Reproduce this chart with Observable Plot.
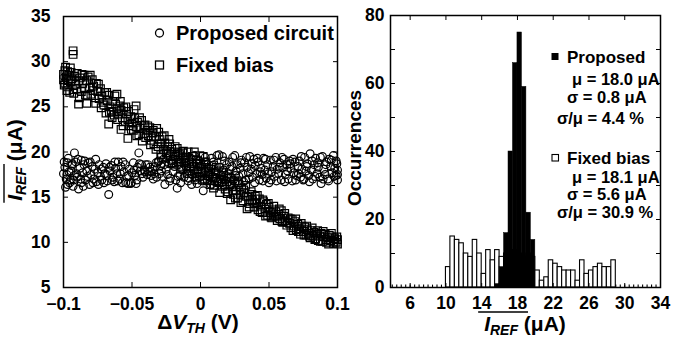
<!DOCTYPE html>
<html><head><meta charset="utf-8">
<script src="https://cdn.jsdelivr.net/npm/d3@7"></script>
<script src="https://cdn.jsdelivr.net/npm/@observablehq/plot@0.6"></script>
<style>
html,body{margin:0;padding:0;background:#fff;}
#wrap{position:relative;width:691px;height:338px;overflow:hidden;background:#fff;}
#wrap svg{position:absolute;top:0;overflow:visible;}
</style></head>
<body><div id="wrap"></div>
<script>
// ---------- Left panel: I_REF vs ΔV_TH (scatter) ----------
const proposedPts = [[-0.100,17.6],[-0.099,18.3],[-0.098,17.0],[-0.097,16.4],[-0.097,18.8],[-0.096,17.8],[-0.095,16.9],[-0.094,18.5],[-0.093,16.2],[-0.092,19.9],[-0.092,17.4],[-0.091,18.9],[-0.090,17.2],[-0.089,15.9],[-0.088,18.2],[-0.087,16.6],[-0.087,19.1],[-0.086,17.7],[-0.085,18.6],[-0.084,16.9],[-0.083,17.9],[-0.082,18.8],[-0.081,16.4],[-0.080,17.5],[-0.079,18.4],[-0.078,17.0],[-0.077,18.1],[-0.076,16.7],[-0.075,17.7],[-0.074,18.6],[-0.073,17.3],[-0.072,16.9],[-0.071,18.3],[-0.070,17.6],[-0.069,18.7],[-0.068,16.8],[-0.067,15.3],[-0.066,17.9],[-0.065,18.5],[-0.064,17.2],[-0.063,16.7],[-0.062,18.2],[-0.061,17.6],[-0.060,18.9],[-0.059,17.0],[-0.058,18.4],[-0.057,16.6],[-0.056,17.8],[-0.055,18.6],[-0.054,17.3],[-0.053,16.5],[-0.052,18.1],[-0.051,16.5],[-0.050,17.7],[-0.049,18.8],[-0.048,17.4],[-0.047,16.5],[-0.046,18.3],[-0.045,19.9],[-0.044,17.9],[-0.043,18.6],[-0.042,17.2],[-0.041,18.0],[-0.040,18.6],[-0.039,17.5],[-0.038,17.8],[-0.037,18.3],[-0.036,17.4],[-0.035,18.1],[-0.034,17.6],[-0.033,18.4],[-0.032,17.2],[-0.031,18.9],[-0.030,17.6],[-0.029,18.5],[-0.028,17.3],[-0.027,19.2],[-0.026,16.4],[-0.025,18.1],[-0.024,17.5],[-0.023,18.7],[-0.022,17.1],[-0.021,19.0],[-0.020,17.8],[-0.019,18.4],[-0.018,16.9],[-0.017,16.0],[-0.016,18.6],[-0.015,17.4],[-0.014,19.1],[-0.013,18.0],[-0.012,17.2],[-0.011,18.8],[-0.010,17.6],[-0.009,16.8],[-0.008,18.3],[-0.007,19.3],[-0.006,17.5],[-0.005,18.1],[-0.004,16.9],[-0.003,18.7],[-0.002,17.8],[-0.001,19.0],
[0.000,17.3],[0.001,18.5],[0.002,15.7],[0.003,17.9],[0.004,18.9],[0.005,16.9],[0.006,18.2],[0.007,17.5],[0.008,19.3],[0.009,17.0],[0.010,18.6],[0.011,17.8],[0.012,19.6],[0.013,16.8],[0.014,18.3],[0.015,17.4],[0.016,19.5],[0.017,18.0],[0.018,16.9],[0.019,18.6],[0.020,17.6],[0.021,18.9],[0.022,17.2],[0.023,18.4],[0.024,16.9],[0.025,19.6],[0.026,17.9],[0.027,18.6],[0.028,17.3],[0.029,18.2],[0.030,19.1],[0.031,17.6],[0.032,18.8],[0.033,16.9],[0.034,18.3],[0.035,17.7],[0.036,19.5],[0.037,18.1],[0.038,17.2],[0.039,19.2],[0.040,18.5],[0.041,17.6],[0.042,18.9],[0.043,16.9],[0.044,18.2],[0.045,17.5],[0.046,19.3],[0.047,18.0],[0.048,17.1],[0.049,18.6],[0.050,16.6],[0.051,19.1],[0.052,17.8],[0.053,18.4],[0.054,17.3],[0.055,19.4],[0.056,18.1],[0.057,17.6],[0.058,18.8],[0.059,16.9],[0.060,18.3],[0.061,19.2],[0.062,17.5],[0.063,18.6],[0.064,17.0],[0.065,19.0],[0.066,18.2],[0.067,16.8],[0.068,17.7],[0.069,18.9],[0.070,17.4],[0.071,18.4],[0.072,19.0],[0.073,17.2],[0.074,18.1],[0.075,16.9],[0.076,19.4],[0.077,17.9],[0.078,18.7],[0.079,17.4],[0.080,19.8],[0.081,18.0],[0.082,17.0],[0.083,18.6],[0.084,19.3],[0.085,17.6],[0.086,18.3],[0.087,17.2],[0.088,16.5],[0.089,19.5],[0.090,18.1],[0.091,17.5],[0.092,18.9],[0.093,17.0],[0.094,19.2],[0.095,18.4],[0.096,17.7],[0.097,19.6],[0.098,18.2],[0.099,17.4],[0.100,18.0],[0.100,17.5],[0.099,19.0],
[-0.0995,18.9],[-0.0985,16.1],[-0.0975,17.5],[-0.0965,19.3],[-0.0955,16.6],[-0.0945,17.9],[-0.0935,18.7],[-0.0925,16.9],[-0.0905,17.6],[-0.0895,19.2],[-0.0875,17.0],[-0.0855,16.2],[-0.0845,19.0],[-0.0825,17.3],[-0.0805,18.9],[-0.0785,16.6],[-0.0765,19.2],[-0.0745,16.4],[-0.0725,18.1],[-0.0705,16.6],[-0.0685,17.4],[-0.0665,18.3],[-0.0645,16.9],[-0.0625,18.9],[-0.0605,16.8],[-0.0585,17.6],[-0.0565,18.9],[-0.0545,16.6],[-0.0525,17.4],[-0.0505,16.6],[-0.0485,18.0],[-0.0465,16.9],[-0.0445,18.7],[-0.0425,17.6],[-0.0405,17.8],[-0.0385,18.6],[-0.0365,17.9],[-0.0345,17.0],[-0.0325,18.8],[-0.0305,19.0],[-0.0285,17.9],[-0.0265,18.6],[-0.0245,19.3],[-0.0225,16.8],[-0.0205,18.7],[-0.0185,19.4],[-0.0165,17.3],[-0.0145,16.6],[-0.0125,19.5],[-0.0105,18.4],[-0.0085,17.1],[-0.0065,16.4],[-0.0045,19.6],[-0.0025,16.5],[-0.0005,18.4],[0.0015,16.8],[0.0035,19.4],[0.0055,17.9],[0.0075,16.4],[0.0095,18.9],[0.0115,17.1],[0.0135,19.7],[0.0155,16.6],[0.0175,19.0],[0.0195,17.1],[0.0215,18.1],[0.0235,19.4],[0.0255,17.4],[0.0275,16.8],[0.0295,18.8],[0.0315,16.7],[0.0335,19.4],[0.0355,17.0],[0.0375,18.7],[0.0395,16.6],[0.0415,19.3],[0.0435,17.8],[0.0455,16.8],[0.0475,19.2],[0.0495,17.6],[0.0515,16.9],[0.0535,19.1],[0.0555,16.8],[0.0575,18.3],[0.0595,19.4],[0.0615,16.7],[0.0635,17.9],[0.0655,18.7],[0.0675,19.2],[0.0695,16.9],[0.0715,17.6],[0.0735,19.5],[0.0755,17.0],[0.0775,18.4],[0.0795,16.7],[0.0815,19.0],[0.0835,17.3],[0.0855,18.8],[0.0875,19.4],[0.0895,17.0],[0.0915,18.6],[0.0935,16.8],[0.0955,19.1],[0.0975,17.3],[0.0995,18.7],[0.100,16.9]];

const fixedPts = [[-0.100,28.6],[-0.100,28.0],[-0.099,29.0],[-0.099,27.6],[-0.098,28.3],[-0.097,28.9],[-0.097,27.2],[-0.096,28.5],[-0.095,29.3],[-0.095,27.8],[-0.094,28.1],[-0.093,31.2],[-0.093,30.8],[-0.093,26.9],[-0.092,28.4],[-0.091,27.5],[-0.090,28.7],[-0.089,25.3],[-0.089,27.9],[-0.088,28.2],[-0.087,26.7],[-0.086,27.6],[-0.085,28.5],[-0.084,26.3],[-0.083,25.4],[-0.083,27.9],[-0.082,28.3],[-0.081,27.1],[-0.080,26.4],[-0.079,28.0],[-0.078,27.3],[-0.077,26.0],[-0.076,27.6],[-0.075,26.7],[-0.074,25.9],[-0.073,27.0],[-0.072,26.2],[-0.071,25.5],[-0.070,26.6],[-0.069,24.3],[-0.068,25.7],[-0.067,26.3],[-0.067,23.1],[-0.066,25.0],[-0.065,24.5],[-0.064,25.6],[-0.063,24.1],[-0.062,25.3],[-0.061,26.4],[-0.061,24.8],[-0.060,24.2],[-0.059,25.1],[-0.058,22.5],[-0.058,24.6],[-0.057,23.8],[-0.056,24.9],[-0.055,23.4],[-0.054,24.2],[-0.053,21.5],[-0.053,23.6],[-0.052,22.9],[-0.051,23.9],[-0.050,23.2],[-0.049,22.4],[-0.048,23.7],[-0.047,25.1],[-0.047,22.8],[-0.046,23.3],[-0.045,21.9],[-0.044,22.6],[-0.043,23.5],[-0.042,22.0],[-0.041,22.9],[-0.040,21.6],[-0.039,22.4],[-0.038,21.8],[-0.037,22.7],[-0.036,21.3],[-0.035,22.1],[-0.034,20.9],[-0.033,21.7],[-0.032,22.6],[-0.031,20.6],[-0.030,21.4],[-0.029,19.7],[-0.029,20.9],[-0.028,21.7],[-0.027,20.3],[-0.026,21.0],[-0.025,19.9],[-0.024,20.6],[-0.023,21.4],[-0.022,19.6],[-0.021,20.3],[-0.020,19.2],[-0.019,20.0],[-0.018,19.5],[-0.017,20.4],[-0.016,18.9],[-0.015,19.7],[-0.014,18.4],[-0.013,19.9],[-0.012,18.8],[-0.011,19.4],[-0.010,18.2],[-0.009,20.0],[-0.008,18.9],[-0.007,17.9],[-0.006,19.5],[-0.005,18.4],[-0.004,17.6],[-0.003,19.1],[-0.002,18.0],[-0.001,17.3],
[0.000,18.7],[0.001,17.7],[0.002,19.5],[0.003,17.0],[0.004,18.3],[0.005,16.8],[0.006,17.8],[0.007,16.4],[0.008,18.5],[0.009,17.2],[0.010,16.3],[0.011,17.6],[0.012,16.7],[0.013,17.9],[0.014,15.5],[0.015,17.0],[0.016,16.2],[0.017,17.4],[0.018,15.9],[0.019,16.7],[0.020,15.6],[0.021,17.1],[0.022,14.7],[0.023,16.2],[0.024,15.3],[0.025,16.8],[0.026,15.8],[0.027,14.9],[0.028,16.4],[0.029,15.3],[0.030,16.0],[0.031,14.6],[0.032,15.5],[0.033,16.3],[0.034,13.7],[0.035,15.0],[0.036,14.3],[0.037,15.6],[0.038,14.6],[0.039,13.9],[0.040,15.1],[0.041,14.4],[0.042,13.6],[0.043,14.8],[0.044,14.0],[0.045,13.3],[0.046,14.5],[0.047,13.7],[0.048,14.2],[0.049,13.0],[0.050,13.9],[0.051,13.3],[0.052,12.7],[0.053,13.6],[0.054,12.9],[0.055,13.4],[0.056,12.4],[0.057,13.1],[0.058,12.6],[0.059,13.5],[0.060,12.2],[0.061,12.9],[0.062,12.4],[0.063,11.9],[0.064,12.7],[0.065,12.1],[0.066,11.6],[0.067,12.5],[0.068,11.8],[0.069,12.3],[0.070,11.4],[0.071,12.0],[0.072,11.5],[0.073,10.9],[0.074,11.8],[0.075,11.2],[0.076,11.7],[0.077,10.8],[0.078,11.4],[0.079,11.0],[0.080,10.5],[0.081,11.3],[0.082,10.7],[0.083,11.1],[0.084,10.4],[0.085,10.9],[0.086,10.2],[0.087,10.7],[0.088,11.0],[0.089,10.1],[0.090,10.6],[0.091,10.9],[0.092,10.0],[0.093,10.5],[0.094,10.8],[0.095,10.2],[0.096,10.6],[0.097,9.9],[0.098,10.4],[0.099,10.0],[0.100,10.3],[0.100,9.8],
[-0.0995,27.4],[-0.0985,29.4],[-0.0975,26.8],[-0.0965,27.9],[-0.0955,26.6],[-0.0945,28.8],[-0.0925,26.5],[-0.0905,27.0],[-0.0885,26.0],[-0.0865,28.6],[-0.0845,27.0],[-0.0825,26.2],[-0.0805,28.5],[-0.0785,26.8],[-0.0765,25.4],[-0.0745,27.5],[-0.0725,24.9],[-0.0705,25.2],[-0.0685,26.6],[-0.0665,24.4],[-0.0645,23.8],[-0.0625,26.2],[-0.0605,23.6],[-0.0585,25.6],[-0.0565,22.9],[-0.0545,25.0],[-0.0525,24.5],[-0.0505,22.5],[-0.0485,24.7],[-0.0465,21.8],[-0.0445,23.8],[-0.0425,21.2],[-0.0405,23.0],[-0.0385,22.9],[-0.0365,20.8],[-0.0345,22.4],[-0.0325,20.3],[-0.0305,22.2],[-0.0285,19.4],[-0.0265,21.8],[-0.0245,19.9],[-0.0225,20.9],[-0.0205,18.8],[-0.0185,20.6],[-0.0165,19.9],[-0.0145,18.1],[-0.0125,20.1],[-0.0105,19.4],[-0.0085,17.6],[-0.0065,18.7],[-0.0045,20.0],[-0.0025,17.2],[-0.0005,19.6],[0.0015,16.9],[0.0035,18.9],[0.0055,17.4],[0.0075,18.1],[0.0095,16.0],[0.0115,18.3],[0.0135,16.6],[0.0155,17.7],[0.0175,16.4],[0.0195,15.4],[0.0215,16.4],[0.0235,15.7],[0.0255,14.9],[0.0275,16.6],[0.0295,14.4],[0.0315,15.8],[0.0335,15.1],[0.0355,13.9],[0.0375,15.3],[0.0395,14.3],[0.0415,15.2],[0.0435,13.4],[0.0455,14.7],[0.0475,12.9],[0.0495,14.3],[0.0515,12.8],[0.0535,14.0],[0.0555,12.9],[0.0575,13.7],[0.0595,12.3],[0.0615,13.2],[0.0635,12.2],[0.0655,12.6],[0.0675,11.3],[0.0695,12.6],[0.0715,11.2],[0.0735,12.1],[0.0755,10.8],[0.0775,11.8],[0.0795,10.7],[0.0815,11.6],[0.0835,10.3],[0.0855,11.3],[0.0875,10.1],[0.0895,11.2],[0.0915,10.3],[0.0935,9.8],[0.0955,11.0],[0.0975,10.1],[0.0995,10.6]];

const dvTicks = [-0.1, -0.05, 0, 0.05, 0.1];
const irefTicks = [5, 10, 15, 20, 25, 30, 35];

// ---------- Right panel: histogram of I_REF ----------
const binWidth = 0.5;
const fixedBinStart = [4,4.5,5,5.5,6,6.5,7,7.5,8,8.5,9,9.5,10,10.5,11,11.5,12,12.5,13,13.5,14,14.5,15,15.5,16,16.5,17,17.5,18,18.5,19,19.5,20,20.5,21,21.5,22,22.5,23,23.5,24,24.5,25,25.5,26,26.5,27,27.5,28,28.5,29,29.5,30,30.5,31,31.5,32,32.5,33,33.5];
const fixedCounts   = [0,0,0,0,0,0,0,0,0,0,0,0,6,15,14,13,10,9,14,10,4,11,8,11,9,10,9,11,10,9,10,9,5,2,3,8,7,6,5,5,5,2,8,4,5,6,7,6,6,8,0,0,0,0,0,0,0,0,0,0];
const propBinStart  = [15.5,16,16.5,17,17.5,18,18.5,19,19.5];
const propCounts    = [1,6,16,40,66,75,59,22,14];
const occMajor = [0, 20, 40, 60, 80];
const occAll = [0, 10, 20, 30, 40, 50, 60, 70, 80];
const irefBinTicks = [6, 10, 14, 18, 22, 26, 30, 34];

const FONT = "'Liberation Sans', Arial, Helvetica, sans-serif";
const fmtDV = d3.format("~g");
const blank = () => "";

const propData = proposedPts.map(([x, y]) => ({x, y}));
const fixData = fixedPts.map(([x, y]) => ({x, y}));

const left = Plot.plot({
  width: 345, height: 338,
  marginLeft: 63, marginRight: 8, marginTop: 16, marginBottom: 51,
  style: {fontFamily: FONT, fontSize: "17.5px", fontWeight: "bold", color: "black", background: "transparent", overflow: "visible"},
  x: {domain: [-0.1, 0.1]},
  y: {domain: [5, 35]},
  marks: [
    Plot.dot(fixData, {x: "x", y: "y", symbol: "square", r: 4.3, stroke: "black", strokeWidth: 1.2, fill: "none"}),
    Plot.dot(propData, {x: "x", y: "y", r: 3.9, stroke: "black", strokeWidth: 1.2, fill: "none"}),
    Plot.frame({stroke: "black", strokeWidth: 1.5}),
    Plot.axisX({ticks: dvTicks, tickSize: 0, tickPadding: 10, tickFormat: fmtDV, label: null}),
    Plot.axisX({ticks: dvTicks, tickSize: -5, tickFormat: blank, label: null}),
    Plot.axisX({anchor: "top", ticks: dvTicks, tickSize: -5, tickFormat: blank, label: null}),
    Plot.axisY({ticks: irefTicks, tickSize: 0, tickPadding: 13, label: null}),
    Plot.axisY({ticks: irefTicks, tickSize: -5, tickFormat: blank, label: null}),
    Plot.axisY({anchor: "right", ticks: irefTicks, tickSize: -5, tickFormat: blank, label: null})
  ]
});

const fixBins = fixedBinStart.map((s, i) => ({x1: s, x2: s + binWidth, n: fixedCounts[i]}));
const zeroEdges = fixBins.filter(d => d.n === 0).map(d => d.x1);
const propBins = propBinStart.map((s, i) => ({x1: s, x2: s + binWidth, n: propCounts[i]}));

const right = Plot.plot({
  width: 346, height: 338,
  marginLeft: 45, marginRight: 31, marginTop: 15, marginBottom: 51,
  style: {fontFamily: FONT, fontSize: "17.5px", fontWeight: "bold", color: "black", background: "transparent", overflow: "visible"},
  x: {domain: [3.8, 34]},
  y: {domain: [0, 80]},
  marks: [
    Plot.rectY(fixBins, {x1: "x1", x2: "x2", y: "n", fill: "white", stroke: "black", strokeWidth: 1.1}),
    Plot.ruleX(zeroEdges, {x: d => d, y1: 0, y2: 0.7, stroke: "black", strokeWidth: 1.1}),
    Plot.rectY(propBins, {x1: "x1", x2: "x2", y: "n", fill: "black", stroke: "black", strokeWidth: 0.5}),
    Plot.frame({stroke: "black", strokeWidth: 1.5}),
    Plot.axisX({ticks: irefBinTicks, tickSize: 0, tickPadding: 9, label: null}),
    Plot.axisX({ticks: irefBinTicks, tickSize: -4, tickFormat: blank, label: null}),
    Plot.axisX({anchor: "top", ticks: irefBinTicks, tickSize: -4, tickFormat: blank, label: null}),
    Plot.axisY({ticks: occMajor, tickSize: 0, tickPadding: 6, label: null}),
    Plot.axisY({ticks: occAll, tickSize: -5, tickFormat: blank, label: null}),
    Plot.axisY({anchor: "right", ticks: occAll, tickSize: -5, tickFormat: blank, label: null})
  ]
});

const wrap = document.getElementById("wrap");
left.style.left = "0px";
right.style.left = "345px";
wrap.appendChild(left);
wrap.appendChild(right);

// ---------- Annotations (real text) ----------
function addText(svg, x, y, parts, opts = {}) {
  const t = d3.select(svg).append("text")
    .attr("x", x).attr("y", y)
    .attr("font-family", FONT).attr("font-weight", "bold")
    .attr("font-size", opts.size || 17).attr("fill", "black")
    .attr("text-anchor", opts.anchor || "start");
  if (opts.transform) t.attr("transform", opts.transform);
  for (const p of parts) {
    const s = t.append("tspan").text(p.t);
    if (p.italic) s.attr("font-style", "italic");
    if (p.size) s.attr("font-size", p.size);
    if (p.dy) s.attr("dy", p.dy);
  }
  return t;
}

const L = d3.select(left);
// Left legend
L.append("circle").attr("cx", 159.5).attr("cy", 33).attr("r", 4).attr("fill", "none").attr("stroke", "black").attr("stroke-width", 1.3);
addText(left, 176, 40, [{t: "Proposed circuit"}], {size: 20});
L.append("rect").attr("x", 155.5).attr("y", 61).attr("width", 8).attr("height", 8).attr("fill", "none").attr("stroke", "black").attr("stroke-width", 1.3);
addText(left, 176, 72, [{t: "Fixed bias"}], {size: 20});

// Left x label: ΔV_TH (V)
addText(left, 198, 329, [{t: "Δ"}, {t: "V", italic: true}, {t: "TH", italic: true, size: 14, dy: 4}, {t: " (V)", dy: -4}], {size: 21, anchor: "middle"});

// Left y label: overlined I_REF (μA), rotated
const yl = addText(left, 0, 0, [{t: "I", italic: true}, {t: "REF", italic: true, size: 14, dy: 4}, {t: " (μA)", dy: -4}], {size: 21, anchor: "middle", transform: "translate(22,160) rotate(-90)"});
{
  const node = yl.node();
  const total = node.getComputedTextLength();
  const sub = node.getSubStringLength(0, 4);
  const x0 = -total / 2;
  L.append("line").attr("transform", "translate(22,160) rotate(-90)")
    .attr("x1", x0 - 2).attr("x2", x0 + sub + 3).attr("y1", -18).attr("y2", -18)
    .attr("stroke", "black").attr("stroke-width", 1.4);
}

const R = d3.select(right);
// Right y label
addText(right, 0, 0, [{t: "Occurrences"}], {size: 19, anchor: "middle", transform: "translate(16,148) rotate(-90)"});
// Right x label: overlined I_REF (μA)
const xl = addText(right, 180, 331, [{t: "I", italic: true}, {t: "REF", italic: true, size: 14, dy: 3.5}, {t: " (μA)", dy: -3.5}], {size: 21, anchor: "middle"});
{
  const node = xl.node();
  const total = node.getComputedTextLength();
  const sub = node.getSubStringLength(0, 4);
  const x0 = 180 - total / 2;
  R.append("line").attr("x1", x0 - 6).attr("x2", x0 + sub + 10).attr("y1", 312).attr("y2", 312)
    .attr("stroke", "black").attr("stroke-width", 1.4);
}
// Right legend (coordinates relative to right svg, which starts at x=345)
R.append("rect").attr("x", 206.5).attr("y", 53).attr("width", 7).attr("height", 7).attr("fill", "black");
addText(right, 222, 63, [{t: "Proposed"}], {size: 17});
addText(right, 227, 85, [{t: "μ = 18.0 μA"}], {size: 16.5});
addText(right, 222, 103, [{t: "σ = 0.8 μA"}], {size: 16.5});
addText(right, 212, 124, [{t: "σ/μ = 4.4 %"}], {size: 16.5});
R.append("rect").attr("x", 207).attr("y", 154.5).attr("width", 6.5).attr("height", 6.5).attr("fill", "white").attr("stroke", "black").attr("stroke-width", 1.1);
addText(right, 222, 164, [{t: "Fixed bias"}], {size: 17});
addText(right, 227, 183, [{t: "μ = 18.1 μA"}], {size: 16.5});
addText(right, 222, 200, [{t: "σ = 5.6 μA"}], {size: 16.5});
addText(right, 212, 218, [{t: "σ/μ = 30.9 %"}], {size: 16.5});
</script></body></html>
